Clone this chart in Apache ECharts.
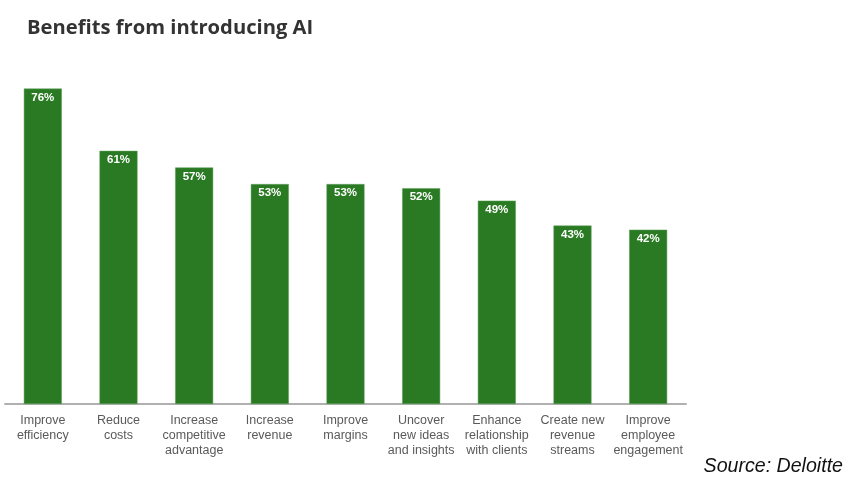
<!DOCTYPE html>
<html>
<head>
<meta charset="utf-8">
<script src="https://cdn.jsdelivr.net/npm/echarts@6/dist/echarts.min.js"></script>
<style>html,body{margin:0;padding:0;background:#fff;}#c{width:865px;height:484px;}</style>
</head>
<body>
<div id="c"></div>
<script>
var categories = ["Improve\nefficiency", "Reduce\ncosts", "Increase\ncompetitive\nadvantage", "Increase\nrevenue", "Improve\nmargins", "Uncover\nnew ideas\nand insights", "Enhance\nrelationship\nwith clients", "Create new\nrevenue\nstreams", "Improve\nemployee\nengagement"];
var values = [76, 61, 57, 53, 53, 52, 49, 43, 42];
var titleText = "Benefits from introducing AI";
var sourceText = "Source: Deloitte";

var chart = echarts.init(document.getElementById('c'), null, {renderer: 'canvas'});
chart.setOption({
  backgroundColor: '#ffffff',
  animation: false,
  title: {
    text: titleText,
    left: 22, top: 13,
    textStyle: {fontFamily: 'Open Sans', fontWeight: 'bold', fontSize: 20.2, color: '#333333'}
  },
  graphic: [{
    type: 'text', right: 22, top: 457,
    style: {text: sourceText, font: 'italic 19.6px "Liberation Sans", Arial', fill: '#111111'}
  }],
  grid: {left: 5, right: 179, top: 72, bottom: 80, containLabel: false},
  xAxis: {
    type: 'category', data: categories,
    axisLine: {lineStyle: {color: '#b0b0b0', width: 2}},
    axisTick: {show: false},
    axisLabel: {interval: 0, margin: 9, fontFamily: 'Liberation Sans', fontSize: 12.5, lineHeight: 15, color: '#5a5a5a'}
  },
  yAxis: {type: 'value', min: 0, max: 80, show: false, splitLine: {show: false}},
  series: [{
    type: 'bar', data: values, barWidth: 38,
    itemStyle: {color: '#2a7a24', borderColor: '#5fa05a', borderWidth: 0.5},
    label: {show: true, position: 'insideTop', distance: 3, formatter: '{c}%', color: '#ffffff', fontWeight: 'bold', fontFamily: 'Liberation Sans', fontSize: 11.5}
  }]
});
</script>
</body>
</html>
